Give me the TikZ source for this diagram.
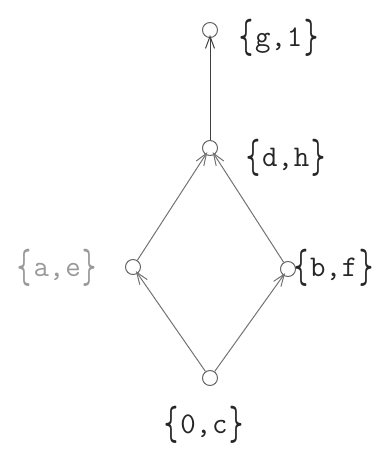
\documentclass[tikz,border=0pt]{standalone}
\usepackage{graphicx}
\usetikzlibrary{arrows.meta}
\newcommand{\lbr}{\raisebox{-0.2em}{\scalebox{0.9}[1.6]{\{}}\kern2pt}
\newcommand{\rbr}{\kern2pt\raisebox{-0.2em}{\scalebox{0.9}[1.6]{\}}}}
\tikzset{
  elem/.style={circle, draw=black!60, line width=1pt, inner sep=0pt, minimum size=15pt},
  setlabel/.style={font=\ttfamily\fontsize{30}{32}\selectfont, text=black!85, inner sep=0pt},
  cover/.style={draw=black!55, line width=1pt, -{Straight Barb[length=12pt, width=9pt]}, shorten >=-3pt}
}
\begin{document}
\begin{tikzpicture}[x=1pt, y=-1pt]
\useasboundingbox (0,0) rectangle (388,450);
\node[elem] (top) at (210,30) {};
\node[elem] (dh) at (210,148) {};
\node[elem] (ae) at (133,267) {};
\node[elem] (bf) at (288,269) {};
\node[elem] (oc) at (210,378) {};
\node[setlabel, anchor=west] (ltop) at (239,38) {\lbr g,\kern1pt1\rbr};
\node[setlabel, anchor=west] (ldh) at (246,158) {\lbr d,\kern1pt h\rbr};
\node[setlabel, anchor=east, text=black!40] (lae) at (97,268) {\lbr a,\kern1pt e\rbr};
\node[setlabel, anchor=west] (lbf) at (294,268) {\lbr b,\kern1pt f\rbr};
\node[setlabel] (loc) at (204,425) {\lbr 0,\kern1pt c\rbr};
\draw[cover] (oc) -- (ae);
\draw[cover] (oc) -- (bf);
\draw[cover] (ae) -- (dh);
\draw[cover] (bf) -- (dh);
\draw[cover, draw=black!75] (dh) -- (top);
\end{tikzpicture}
\end{document}
